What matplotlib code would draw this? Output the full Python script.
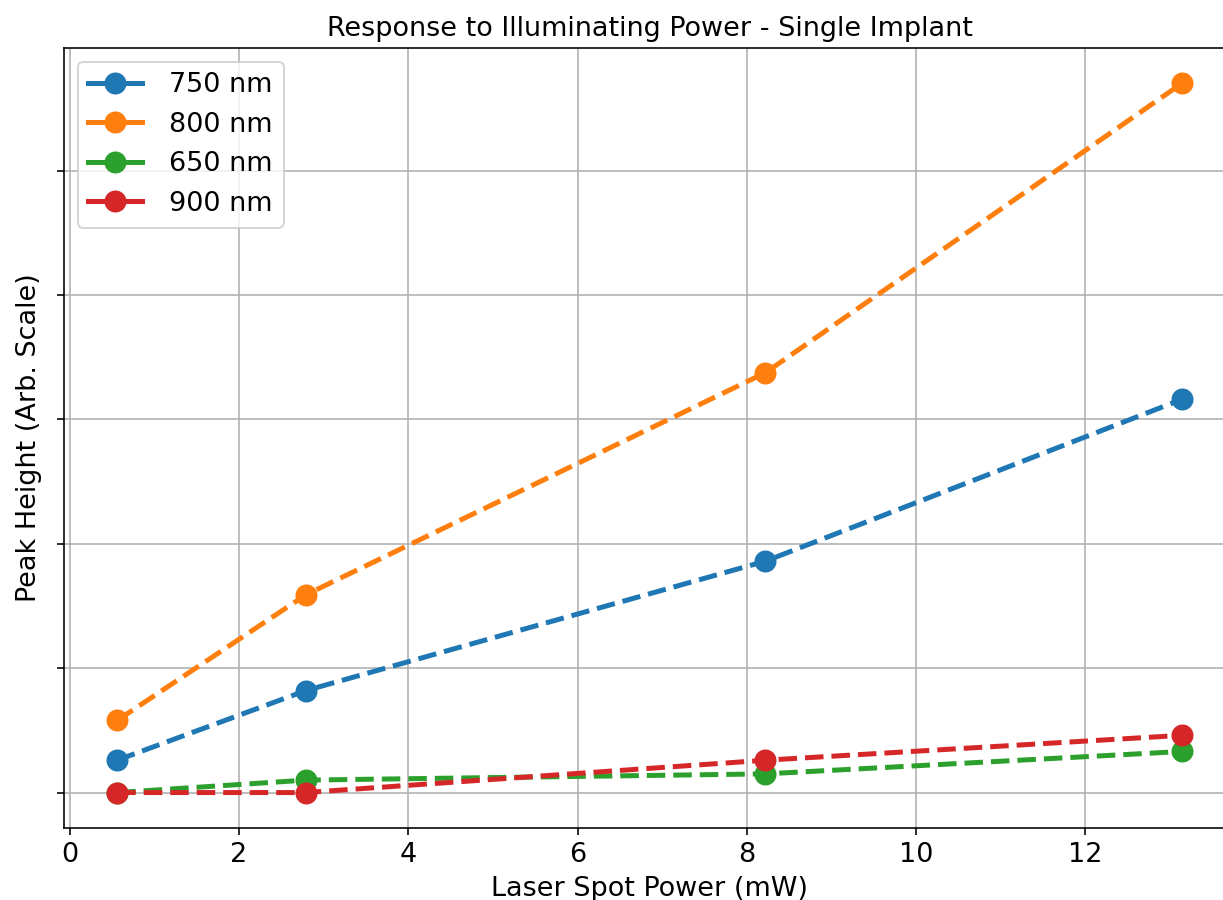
import matplotlib
matplotlib.use('Agg')
import matplotlib.pyplot as plt

# Laser spot power (mW) and peak heights (arbitrary units)
power = [0.56, 2.79, 8.22, 13.14]
peak_750 = [0.26, 0.82, 1.86, 3.16]
peak_800 = [0.58, 1.59, 3.375, 5.70]
peak_650 = [0.0, 0.10, 0.15, 0.33]
peak_900 = [0.0, 0.0, 0.26, 0.46]

series = [('750 nm', peak_750), ('800 nm', peak_800),
          ('650 nm', peak_650), ('900 nm', peak_900)]

fig = plt.figure(figsize=(1223 / 144, 900 / 144), dpi=144)
ax = fig.add_axes([64 / 1223, 72 / 900, 1171 / 1223, 780 / 900])

for label, vals in series:
    ax.plot(power, vals, 'o--', linewidth=2.5, markersize=10, label=label)

ax.set_title('Response to Illuminating Power - Single Implant', fontsize=13.5)
ax.set_xlabel('Laser Spot Power (mW)', fontsize=13.5)
ax.set_ylabel('Peak Height (Arb. Scale)', fontsize=13.5)
ax.tick_params(axis='x', labelsize=13.5)
ax.set_yticklabels([])
ax.grid(True)

leg = ax.legend(loc='upper left', fontsize=13.5, handletextpad=1.0)
# legend handles are drawn solid in the original
for h in leg.get_lines():
    h.set_linestyle('-')

fig.savefig('out.png', dpi=144)
